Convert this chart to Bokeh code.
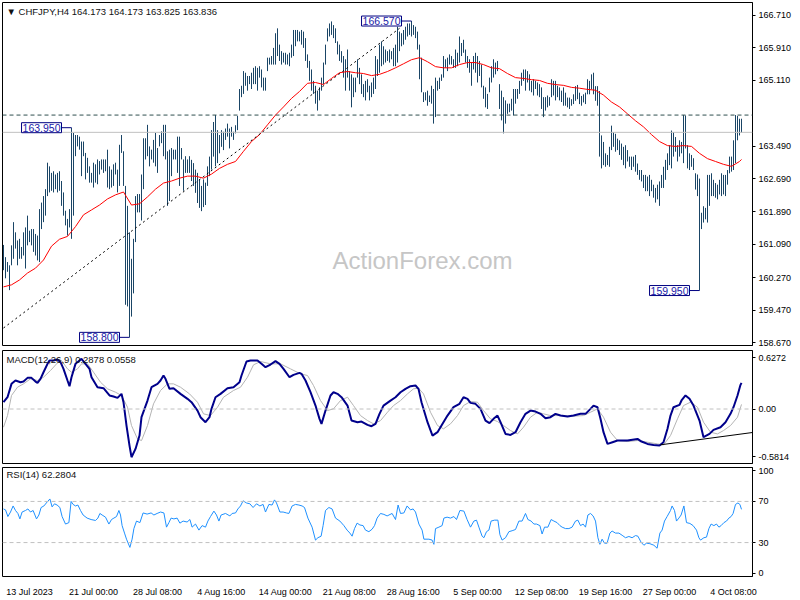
from bokeh.plotting import figure
from bokeh.layouts import column
from bokeh.models import (Range1d, LinearAxis, FixedTicker, PrintfTickFormatter,
                          Label, Span, ColumnDataSource)
from bokeh.embed import file_html
from bokeh.resources import INLINE

# ---------------- data ----------------
highs = [
    161.07, 160.77, 160.65, 160.57, 161.06, 161.63, 161.38, 161.18, 161.22, 161.02,
    161.38, 161.50, 161.79, 161.42, 161.46, 161.46, 161.34, 161.30, 161.95, 162.11,
    162.27, 162.44, 163.09, 163.00, 162.84, 162.88, 162.80, 162.84, 162.88, 162.64,
    162.36, 161.91, 161.71, 161.95, 163.95, 163.82, 163.77, 163.77, 163.73, 163.61,
    163.61, 163.33, 163.21, 163.00, 162.84, 163.09, 163.05, 163.17, 163.13, 163.17,
    163.17, 163.17, 163.41, 163.00, 162.92, 163.05, 163.09, 162.92, 163.53, 163.77,
    163.37, 162.52, 162.03, 161.38, 160.73, 161.22, 162.27, 162.32, 162.32, 162.80,
    163.69, 163.69, 164.02, 163.49, 163.41, 163.65, 163.82, 163.45, 163.77, 163.86,
    164.02, 164.02, 163.37, 163.41, 163.45, 163.41, 163.41, 163.73, 163.73, 163.45,
    163.17, 163.25, 163.17, 163.25, 163.16, 163.08, 162.92, 162.84, 162.68, 162.52,
    162.68, 162.60, 163.00, 163.24, 163.89, 164.09, 164.26, 163.89, 163.77, 163.89,
    163.85, 163.93, 164.05, 163.93, 163.97, 163.85, 164.01, 164.24, 164.90, 164.98,
    165.34, 165.30, 165.22, 165.22, 165.30, 165.42, 165.46, 165.42, 165.46, 165.38,
    165.18, 165.18, 165.67, 165.67, 165.71, 165.91, 166.27, 166.39, 165.99, 165.83,
    165.79, 165.79, 165.75, 165.79, 165.99, 166.35, 166.35, 166.35, 166.31, 166.35,
    166.31, 166.15, 165.75, 165.59, 165.38, 165.10, 164.98, 164.86, 164.94, 165.18,
    165.55, 165.99, 166.39, 166.51, 166.56, 166.47, 166.39, 166.07, 165.99, 165.83,
    165.71, 165.63, 165.87, 165.34, 165.26, 165.18, 165.18, 165.63, 165.42, 165.26,
    165.02, 165.10, 165.14, 164.98, 165.06, 165.18, 165.71, 165.63, 165.99, 166.07,
    165.95, 165.87, 165.83, 165.87, 165.83, 165.91, 165.99, 166.43, 166.31, 166.27,
    166.35, 166.43, 166.51, 166.51, 166.57, 166.47, 166.43, 166.31, 165.99, 165.67,
    164.82, 164.82, 164.86, 164.74, 164.98, 164.90, 165.18, 165.10, 165.18, 165.26,
    165.71, 165.63, 165.67, 165.75, 165.71, 165.63, 165.87, 165.79, 166.19, 166.03,
    166.11, 165.87, 165.71, 165.63, 165.55, 165.71, 165.79, 165.71, 165.59, 165.50,
    164.98, 164.94, 164.78, 165.18, 165.46, 165.63, 165.55, 165.59, 165.02, 164.86,
    164.70, 164.62, 164.54, 164.54, 164.66, 164.90, 164.90, 164.90, 165.10, 165.30,
    165.38, 165.38, 165.34, 165.26, 165.10, 165.14, 165.10, 165.06, 165.02, 164.94,
    164.70, 164.70, 164.74, 164.70, 165.14, 165.10, 165.10, 164.98, 164.94, 164.86,
    164.94, 164.81, 164.69, 164.69, 164.65, 164.77, 164.97, 165.00, 164.81, 164.73,
    164.77, 164.81, 165.14, 165.10, 165.26, 165.30, 164.97, 164.97, 164.85, 163.76,
    163.60, 163.32, 163.28, 163.48, 164.00, 163.84, 163.80, 163.68, 163.64, 163.56,
    163.48, 163.52, 163.40, 163.24, 163.24, 163.24, 163.28, 163.07, 162.91, 162.91,
    162.79, 162.79, 162.75, 162.79, 162.67, 162.55, 162.47, 162.55, 162.63, 162.79,
    162.99, 163.16, 163.32, 163.52, 163.88, 163.84, 163.72, 163.52, 163.64, 163.60,
    164.26, 164.25, 163.52, 163.32, 163.28, 163.20, 162.83, 162.80, 162.70, 161.86,
    162.02, 161.98, 162.79, 162.79, 162.83, 162.67, 162.59, 162.55, 162.67, 162.83,
    162.79, 162.79, 162.91, 163.24, 163.24, 163.64, 164.26, 164.24, 164.17, 164.17,
]
lows = [
    160.45, 160.25, 160.41, 159.96, 160.57, 160.73, 160.98, 160.57, 160.73, 160.73,
    160.81, 160.49, 161.06, 161.14, 161.06, 160.90, 160.81, 160.69, 160.65, 161.46,
    161.63, 161.79, 162.27, 162.36, 162.40, 162.36, 162.44, 162.36, 162.40, 162.03,
    161.79, 161.55, 161.30, 161.50, 161.22, 161.79, 163.25, 163.49, 163.41, 162.76,
    163.25, 162.68, 162.84, 162.60, 162.60, 162.48, 162.60, 162.56, 162.80, 162.92,
    162.84, 162.88, 162.48, 162.44, 162.48, 162.52, 162.80, 162.36, 162.52, 163.33,
    162.52, 159.60, 159.56, 158.80, 159.31, 159.88, 161.14, 161.87, 161.87, 161.67,
    162.44, 163.17, 163.25, 163.00, 163.17, 163.09, 163.00, 162.84, 163.49, 163.57,
    163.25, 163.17, 162.03, 162.15, 162.76, 163.17, 163.17, 162.84, 162.52, 163.17,
    162.40, 162.84, 162.84, 162.84, 162.64, 162.52, 162.35, 162.10, 161.98, 161.90,
    162.00, 162.05, 162.52, 162.76, 162.92, 163.24, 163.00, 163.08, 163.32, 163.48,
    163.40, 163.65, 163.73, 163.44, 163.73, 163.65, 163.81, 163.89, 164.37, 164.70,
    164.78, 164.98, 164.86, 165.02, 164.90, 165.02, 165.02, 164.86, 165.18, 164.94,
    164.86, 164.86, 165.34, 165.50, 165.50, 165.50, 165.50, 165.71, 165.59, 165.50,
    165.55, 165.50, 165.50, 165.46, 165.67, 165.71, 165.95, 166.07, 166.07, 165.99,
    165.91, 165.59, 165.42, 165.10, 164.86, 164.78, 164.54, 164.37, 164.62, 164.86,
    165.02, 165.50, 166.07, 166.19, 166.23, 166.15, 166.03, 165.75, 165.59, 165.55,
    165.18, 164.86, 165.18, 164.86, 164.45, 164.70, 164.82, 165.18, 165.02, 164.78,
    164.70, 164.62, 164.82, 164.62, 164.70, 164.78, 164.90, 165.22, 165.30, 165.46,
    165.50, 165.55, 165.59, 165.55, 165.63, 165.46, 165.46, 165.55, 165.83, 165.95,
    165.99, 166.11, 166.19, 166.23, 166.19, 166.23, 166.15, 165.87, 165.14, 164.82,
    164.58, 164.62, 164.49, 164.58, 164.54, 164.05, 164.21, 164.86, 164.90, 165.10,
    165.18, 165.42, 165.34, 165.50, 165.50, 165.42, 165.42, 165.46, 165.55, 165.71,
    165.79, 165.55, 165.42, 165.30, 164.98, 165.38, 165.30, 165.06, 165.22, 164.94,
    164.66, 164.45, 164.41, 164.82, 165.06, 165.18, 165.26, 165.34, 164.41, 164.13,
    163.81, 164.05, 164.29, 164.33, 164.37, 164.25, 164.54, 164.66, 164.78, 164.98,
    165.10, 164.86, 165.06, 164.86, 164.82, 164.74, 164.90, 164.74, 164.70, 164.41,
    164.21, 164.37, 164.45, 164.49, 164.70, 164.74, 164.62, 164.70, 164.62, 164.58,
    164.49, 164.49, 164.45, 164.41, 164.49, 164.53, 164.61, 164.65, 164.53, 164.49,
    164.57, 164.53, 164.77, 164.77, 164.89, 164.77, 164.61, 164.49, 163.24, 162.95,
    163.03, 162.99, 163.03, 162.99, 163.40, 163.48, 163.36, 163.40, 163.28, 163.16,
    163.03, 162.95, 163.12, 162.99, 162.91, 162.99, 162.87, 162.79, 162.67, 162.63,
    162.47, 162.39, 162.39, 162.27, 162.39, 162.23, 162.11, 162.19, 162.03, 162.47,
    162.47, 162.67, 162.91, 163.03, 162.95, 163.24, 163.36, 163.12, 163.24, 163.32,
    163.08, 163.44, 162.95, 162.91, 162.99, 162.91, 162.43, 162.27, 159.95, 161.46,
    161.62, 161.70, 161.62, 162.03, 162.27, 162.27, 162.23, 162.19, 162.31, 162.27,
    162.31, 162.27, 162.55, 162.83, 162.87, 162.91, 163.08, 163.64, 163.76, 163.83,
]

# moving average, sampled every 4th bar plus the last bar
ma_idx = list(range(0, 369, 4)) + [369]
ma_vals = [
    160.04, 160.09, 160.21, 160.38, 160.50, 160.70, 161.04, 161.21, 161.28, 161.52,
    161.81, 161.93, 162.05, 162.20, 162.30, 162.37, 162.05, 162.08, 162.25, 162.44,
    162.59, 162.64, 162.71, 162.76, 162.76, 162.71, 162.81, 162.95, 163.05, 163.12,
    163.37, 163.61, 163.78, 164.02, 164.26, 164.46, 164.67, 164.84, 165.04, 165.06,
    165.01, 165.16, 165.30, 165.33, 165.30, 165.28, 165.23, 165.26, 165.33, 165.42,
    165.52, 165.62, 165.67, 165.57, 165.45, 165.42, 165.42, 165.50, 165.55, 165.55,
    165.50, 165.42, 165.40, 165.28, 165.18, 165.16, 165.13, 165.11, 165.04, 165.01,
    164.99, 164.94, 164.92, 164.89, 164.87, 164.75, 164.58, 164.46, 164.29, 164.12,
    163.97, 163.78, 163.61, 163.51, 163.49, 163.51, 163.49, 163.32, 163.19, 163.12,
    163.05, 163.00, 163.12, 163.17,
]

macd_pts = [
    (0, 0.083), (2, 0.144), (4, 0.307), (6, 0.348), (8.5, 0.327), (10, 0.335), (12, 0.380),
    (14, 0.380), (16, 0.335), (17, 0.319), (18.5, 0.368), (20, 0.449), (22, 0.551), (23, 0.592),
    (25, 0.592), (27, 0.604), (28.5, 0.572), (30, 0.490), (32, 0.348), (33, 0.278), (34, 0.388),
    (36, 0.551), (38, 0.592), (39, 0.612), (41, 0.551), (43, 0.490), (44, 0.388), (47, 0.266),
    (50, 0.254), (53, 0.165), (55, 0.152), (57, 0.136), (59, 0.185), (60, 0.083), (61.5, -0.202),
    (63, -0.446), (64, -0.588), (66, -0.487), (68, -0.324), (69, -0.100), (72, 0.103), (74, 0.266),
    (77, 0.307), (78.5, 0.348), (80, 0.409), (81, 0.368), (83, 0.246), (85, 0.254), (88.5, 0.185),
    (92, 0.124), (94, 0.083), (97, -0.019), (98.5, -0.100), (101, -0.161), (103, -0.100),
    (104, 0.002), (106, 0.144), (108.5, 0.185), (112, 0.254), (115, 0.266), (118, 0.327),
    (119, 0.409), (121.5, 0.580), (123.5, 0.592), (127, 0.592), (129, 0.551), (131, 0.510),
    (133.5, 0.543), (136, 0.584), (138, 0.551), (140, 0.490), (143, 0.388), (145, 0.417),
    (148, 0.441), (149, 0.429), (151, 0.348), (153.5, 0.205), (156, 0.042), (158, -0.120),
    (159, -0.181), (161, -0.019), (163.5, 0.165), (165, 0.205), (167, 0.185), (169, 0.144),
    (172, 0.042), (174, -0.141), (177, -0.161), (179, -0.153), (182, -0.194), (184, -0.210),
    (186, -0.181), (188, -0.059), (190, 0.042), (193.5, 0.103), (196, 0.144), (198.5, 0.205),
    (201, 0.246), (203.5, 0.278), (206, 0.287), (207.5, 0.246), (209, 0.083), (212, -0.161),
    (214.5, -0.324), (217, -0.283), (219, -0.202), (222, -0.080), (225, 0.022), (228, 0.063),
    (230, 0.144), (232, 0.124), (233.5, 0.075), (236, 0.063), (238.5, 0.002), (241, -0.141),
    (243, -0.173), (245, -0.120), (247, -0.080), (248.5, -0.161), (251, -0.304), (253.5, -0.316),
    (256, -0.283), (258.5, -0.161), (261, -0.059), (263.5, -0.019), (266, -0.031), (268.5, -0.059),
    (271, -0.112), (273.5, -0.100), (276, -0.059), (278.5, -0.080), (282, -0.092), (285, -0.080),
    (288.5, -0.059), (291, -0.059), (293.5, 0.002), (295, 0.042), (297, 0.022), (298.5, -0.120),
    (300, -0.283), (302, -0.426), (304.5, -0.405), (307, -0.385), (312, -0.385), (317, -0.365),
    (319, -0.397), (322, -0.426), (325, -0.438), (328, -0.446), (330, -0.405), (332, -0.242),
    (333.5, -0.080), (335, 0.022), (338, 0.051), (339, 0.104), (341, 0.165), (343, 0.124),
    (345, 0.042), (348, -0.141), (350, -0.344), (353, -0.304), (355, -0.255), (358.5, -0.222),
    (361, -0.161), (363.5, -0.059), (365, 0.022), (367, 0.165), (368.5, 0.295), (369, 0.319),
]
signal_pts = [
    (0, -0.222), (2, -0.080), (4, 0.165), (7, 0.266), (10, 0.307), (13.5, 0.368), (17, 0.348),
    (20, 0.388), (23.5, 0.470), (27, 0.563), (29, 0.592), (32, 0.490), (34, 0.449), (37, 0.490),
    (39, 0.551), (42, 0.551), (45, 0.449), (48.5, 0.327), (52, 0.246), (56, 0.205), (59, 0.165),
    (62, 0.022), (64, -0.202), (67, -0.365), (69, -0.385), (72, -0.202), (75, 0.063), (78.5, 0.226),
    (82, 0.307), (85, 0.307), (88.5, 0.266), (93, 0.185), (97, 0.083), (100, -0.059), (103.5, -0.080),
    (107, 0.022), (110, 0.144), (115, 0.226), (118.5, 0.266), (122, 0.388), (125, 0.539),
    (128.5, 0.580), (133.5, 0.551), (138.5, 0.551), (143.5, 0.490), (148.5, 0.429), (152, 0.409),
    (155, 0.287), (158.5, 0.103), (162, -0.019), (165, 0.002), (168.5, 0.103), (172, 0.144),
    (175, 0.042), (178.5, -0.080), (182, -0.141), (185, -0.181), (188.5, -0.141), (192, -0.039),
    (195, 0.042), (198.5, 0.103), (202, 0.185), (205, 0.246), (207.5, 0.254), (210, 0.185),
    (213.5, -0.039), (217, -0.202), (220, -0.242), (223.5, -0.181), (227, -0.080), (230, 0.042),
    (233.5, 0.091), (237, 0.083), (240, -0.019), (243.5, -0.120), (247, -0.153), (250, -0.202),
    (253.5, -0.263), (257, -0.304), (260, -0.222), (263.5, -0.100), (267, -0.039), (270, -0.059),
    (273.5, -0.080), (278.5, -0.080), (285, -0.088), (290, -0.080), (293.5, -0.039), (297, 0.002),
    (300, -0.100), (303.5, -0.283), (307, -0.385), (312, -0.397), (317, -0.385), (322, -0.405),
    (327, -0.426), (330, -0.438), (333.5, -0.324), (337, -0.120), (340, 0.042), (343.5, 0.083),
    (347, 0.022), (350, -0.161), (353.5, -0.283), (357, -0.304), (360, -0.263), (363.5, -0.202),
    (367, -0.100), (369, 0.056),
]
rsi_pts = [
    (0, 62.7), (1, 61.8), (2.2, 55.3), (3.5, 59.7), (4.8, 65.6), (6, 61.2), (7.2, 58.3), (8.2, 53.0),
    (9.3, 59.7), (11, 61.2), (12.2, 62.7), (13.5, 59.7), (14.8, 61.2), (16.5, 53.0), (17.7, 56.8),
    (18.8, 64.1), (20.2, 65.6), (21.8, 69.4), (23.2, 72.4), (24.3, 64.7), (25.5, 67.7), (26.8, 66.5),
    (28.2, 64.1), (29.3, 55.3), (31, 48.0), (32.7, 49.4), (33.8, 70.0), (34.8, 67.1), (36, 65.6),
    (37.2, 66.5), (38.5, 61.2), (39.8, 56.8), (41.8, 53.8), (43.8, 52.4), (46, 51.5), (47.2, 53.8),
    (48.2, 58.3), (49.3, 56.8), (51, 54.7), (52.7, 48.0), (54, 52.4), (55.2, 53.8), (56.5, 55.3),
    (57.7, 61.2), (58.5, 56.8), (59.3, 46.5), (60.5, 39.2), (61.5, 33.3), (63.2, 25.3), (64.3, 33.3),
    (65.2, 43.6), (66.5, 50.9), (68.2, 49.4), (69.8, 58.8), (71.8, 57.7), (73.8, 58.8), (75.2, 56.8),
    (76.8, 58.3), (78.5, 59.7), (80.2, 58.8), (81.5, 45.0), (82.7, 49.4), (83.8, 53.8), (85.2, 53.0),
    (86.8, 53.8), (88.2, 48.9), (89.8, 50.9), (91.8, 50.0), (93.2, 52.4), (94.3, 45.0), (96, 48.0),
    (97.7, 42.1), (99.3, 46.5), (101, 45.0), (102.2, 50.9), (103.5, 55.3), (105.2, 60.6), (106.5, 56.8),
    (107.7, 50.9), (108.8, 56.8), (111, 58.3), (113.2, 55.9), (114.3, 58.3), (116, 58.8), (117.2, 62.7),
    (118.5, 65.6), (119.8, 70.6), (121.5, 68.5), (123.2, 67.7), (124.8, 64.1), (126.5, 67.7),
    (128.2, 65.6), (129.8, 67.1), (131, 59.7), (132.7, 67.1), (134.3, 66.5), (135.5, 71.5),
    (136.5, 68.5), (138.2, 59.7), (139.8, 59.7), (141.5, 58.8), (142.7, 58.3), (144.3, 65.6),
    (146, 67.1), (147.7, 66.5), (149.3, 65.6), (150.5, 64.1), (152.2, 53.8), (154.3, 45.0),
    (156, 32.4), (157.2, 34.7), (158.8, 36.2), (159.8, 46.5), (161, 61.2), (162.7, 64.1),
    (164.3, 62.7), (166, 53.8), (168.2, 50.9), (170.2, 46.5), (171.8, 42.1), (173.2, 39.2),
    (174.3, 36.2), (175.5, 43.6), (176.8, 48.9), (178.2, 47.1), (179.8, 46.5), (181, 42.1),
    (182.7, 40.6), (184.3, 43.0), (185.5, 46.5), (186.8, 53.8), (188.5, 58.3), (190.2, 57.4),
    (191.8, 55.9), (194.3, 58.3), (196, 52.4), (197.3, 66.5), (198.5, 58.3), (200.2, 58.8),
    (201.8, 65.6), (203.5, 61.8), (204.8, 62.7), (206, 59.7), (207.7, 48.0), (209.3, 42.1),
    (210.2, 33.3), (212.7, 33.3), (214.3, 32.4), (215.2, 28.3), (216, 43.6), (217.7, 45.0),
    (219.3, 46.5), (220.2, 53.8), (221.8, 54.7), (223.5, 53.8), (225.2, 55.3), (226.5, 52.4),
    (228.2, 61.2), (230.2, 60.6), (231.8, 52.4), (233.5, 45.0), (235.2, 50.9), (236.5, 51.8),
    (237.7, 45.0), (239.3, 36.2), (240.2, 34.7), (241.5, 40.6), (242.7, 42.1), (243.8, 50.9),
    (245.5, 51.8), (247.2, 51.8), (248.2, 37.7), (249.3, 32.4), (251, 34.7), (252.7, 40.6),
    (254.3, 41.5), (256, 42.7), (257.7, 50.9), (259.3, 50.9), (261, 58.3), (262.2, 52.4),
    (263.8, 50.9), (265.2, 48.0), (266.5, 48.0), (268.2, 46.5), (269.3, 38.3), (270.5, 45.0),
    (272.2, 45.0), (273.8, 52.4), (275.2, 50.9), (276.8, 49.4), (278.2, 46.5), (279.3, 45.0),
    (281, 43.6), (282.7, 43.6), (284.3, 45.0), (286, 50.9), (287.2, 51.8), (288.5, 46.5),
    (289.8, 48.0), (291, 45.0), (292.2, 56.8), (293.5, 58.3), (294.8, 55.9), (296, 50.9),
    (297.2, 34.7), (298.2, 28.3), (299.3, 33.3), (300.5, 29.4), (301.8, 29.4), (303.2, 39.2),
    (304.3, 41.2), (306, 39.2), (307.7, 39.2), (309.3, 37.1), (311, 34.7), (312.7, 35.9),
    (314.3, 34.7), (316, 36.8), (317.2, 36.2), (318.8, 30.3), (320.2, 27.4), (321.5, 29.4),
    (323.2, 28.9), (325.2, 27.4), (326.8, 24.5), (328.2, 39.2), (329.3, 42.1), (330.5, 50.9),
    (331.8, 55.3), (333.5, 61.2), (334.3, 65.6), (335.5, 61.2), (336.5, 50.9), (337.7, 53.8),
    (338.8, 56.8), (340.2, 65.6), (341.5, 49.4), (343.2, 48.6), (344.8, 46.5), (346.5, 42.1),
    (347.7, 34.7), (348.5, 32.4), (350.2, 34.7), (351.5, 35.3), (352.7, 43.6), (353.8, 48.0),
    (355.2, 46.5), (356.5, 48.0), (357.7, 45.0), (358.8, 46.5), (360.2, 49.4), (361.5, 50.9),
    (362.7, 53.8), (363.8, 55.3), (364.8, 58.3), (366, 67.1), (367.2, 68.5), (368.2, 67.1),
    (369, 62.3),
]

price_ticks = [166.71, 165.91, 165.11, 163.49, 162.69, 161.89, 161.09, 160.27, 159.47, 158.67]
macd_ticks = [0.6272, 0.0, -0.5814]
macd_tick_labels = ["0.6272", "0.00", "-0.5814"]
rsi_ticks = [100, 70, 30, 0]
rsi_levels = [70, 30]
date_ticks = [0, 32, 64, 96, 128, 160, 192, 224, 256, 288, 320, 352]
date_labels = ["13 Jul 2023", "21 Jul 00:00", "28 Jul 08:00", "4 Aug 16:00", "14 Aug 00:00",
               "21 Aug 08:00", "28 Aug 16:00", "5 Sep 00:00", "12 Sep 08:00", "19 Sep 16:00",
               "27 Sep 00:00", "4 Oct 08:00"]

resistance_level = 164.26
last_price = 163.836
trend_idx = [0, 198]
trend_price = [159.03, 166.39]
macd_trend_idx = [328.5, 375]
macd_trend_val = [-0.437, -0.285]
mark_idx = [34, 63, 204, 348]
mark_price = [163.95, 158.80, 166.57, 159.95]

title_text = "\u25bc CHFJPY,H4  164.173 164.173 163.825 163.836"
macd_text = "MACD(12,26,9) 0.2878 0.0558"
rsi_text = "RSI(14) 62.2804"

# ---------------- styling / layout ----------------
FONT = "Liberation Sans"
FS = "9px"
FS_PANEL = "9.5px"
W = 800
LB = 2
RB = 48
FW = W - LB - RB          # 750 px frame -> 2 px per bar
BAR = "#1a4566"

xr = Range1d(-0.5, 374.5)


def make_fig(h, yr, top, bottom):
    p = figure(width=W, height=h, x_range=xr, y_range=yr, x_axis_type=None, y_axis_type=None,
               title=None, output_backend="svg", toolbar_location=None,
               min_border_left=LB, min_border_right=RB, min_border_top=top, min_border_bottom=bottom)
    p.outline_line_color = "black"
    p.outline_line_width = 1
    p.background_fill_color = "white"
    p.border_fill_color = "white"
    return p


def right_axis(p, ticks, fmt=None, overrides=None):
    ax = LinearAxis(ticker=FixedTicker(ticks=ticks))
    if fmt:
        ax.formatter = PrintfTickFormatter(format=fmt)
    if overrides:
        ax.major_label_overrides = overrides
    ax.axis_line_color = "black"
    ax.major_tick_line_color = "black"
    ax.major_tick_out = 3
    ax.major_tick_in = 0
    ax.minor_tick_line_color = None
    ax.major_label_text_font = FONT
    ax.major_label_text_font_size = FS
    ax.major_label_text_color = "black"
    ax.major_label_standoff = 3
    p.add_layout(ax, "right")


def corner_text(p, text, frame_h):
    p.add_layout(Label(x=4, y=frame_h - 9, x_units="screen", y_units="screen", text=text,
                       text_font=FONT, text_font_size=FS_PANEL, text_color="#111111",
                       text_baseline="middle", text_align="left"))


# ---- main price panel ----
H1, T1, B1 = 350, 2, 5
p1 = make_fig(H1, Range1d(158.60, 167.025), T1, B1)
right_axis(p1, price_ticks, fmt="%.3f")

p1.add_layout(Label(x=209.5, y=160.70, text="ActionForex.com", text_font="Liberation Sans",
                    text_font_size="24px", text_color="#c6c6c6", text_align="center",
                    text_baseline="middle", level="underlay"))

p1.add_layout(Span(location=resistance_level, dimension="width", line_color="#2f4f4f",
                   line_dash="4 3", line_width=1))
p1.add_layout(Span(location=last_price, dimension="width", line_color="#c0c0c0", line_width=1))

src = ColumnDataSource(dict(i=list(range(len(highs))), high=highs, low=lows))
p1.segment(x0="i", y0="low", x1="i", y1="high", source=src, line_color=BAR, line_width=1)
p1.line(ma_idx, ma_vals, line_color="#ff0000", line_width=1)
p1.line(trend_idx, trend_price, line_color="black", line_width=1, line_dash="2 3")

for idx, price in zip(mark_idx, mark_price):
    p1.segment(x0=[idx - 5], y0=[price], x1=[idx], y1=[price], line_color="#000080", line_width=1)
    p1.add_layout(Label(x=idx - 5, y=price, text=f"{price:.3f}", text_font=FONT, text_font_size="10.5px",
                        text_color="#1a1aa8", text_align="right", text_baseline="middle",
                        background_fill_color="white", border_line_color="#000080",
                        border_line_width=1, padding=1))

p1.add_layout(Label(x=FW + 2, x_units="screen", y=resistance_level, text=f"{resistance_level:.3f}",
                    text_font=FONT, text_font_size=FS, text_color="white", text_align="left",
                    text_baseline="middle", background_fill_color="#2f4f4f", padding=2))
p1.add_layout(Label(x=FW + 2, x_units="screen", y=last_price, text=f"{last_price:.3f}",
                    text_font=FONT, text_font_size=FS, text_color="white", text_align="left",
                    text_baseline="middle", background_fill_color="black", padding=2))
corner_text(p1, title_text, H1 - T1 - B1)

# ---- MACD panel ----
H2, T2, B2 = 115, 0, 2
p2 = make_fig(H2, Range1d(-0.665, 0.714), T2, B2)
right_axis(p2, macd_ticks, overrides={t: s for t, s in zip(macd_ticks, macd_tick_labels)})
p2.add_layout(Span(location=0, dimension="width", line_color="#c0c0c0", line_dash="4 3", line_width=1))
p2.line([q[0] for q in signal_pts], [q[1] for q in signal_pts], line_color="#b4b4b4", line_width=1)
p2.line([q[0] for q in macd_pts], [q[1] for q in macd_pts], line_color="#00008b", line_width=2)
p2.line(macd_trend_idx, macd_trend_val, line_color="black", line_width=1)
corner_text(p2, macd_text, H2 - T2 - B2)

# ---- RSI panel ----
H3, T3, B3 = 134, 2, 21
p3 = make_fig(H3, Range1d(-3, 103), T3, B3)
right_axis(p3, rsi_ticks)
for lv in rsi_levels:
    p3.add_layout(Span(location=lv, dimension="width", line_color="#c0c0c0", line_dash="4 3", line_width=1))
p3.line([q[0] for q in rsi_pts], [q[1] for q in rsi_pts], line_color="#1e90ff", line_width=1)
corner_text(p3, rsi_text, H3 - T3 - B3)

shift = 13
xa = LinearAxis(ticker=FixedTicker(ticks=[t + shift for t in date_ticks]),
                major_label_overrides={t + shift: s for t, s in zip(date_ticks, date_labels)})
xa.axis_line_color = None
xa.major_tick_line_color = None
xa.minor_tick_line_color = None
xa.major_label_text_font = FONT
xa.major_label_text_font_size = FS
xa.major_label_text_color = "black"
xa.major_label_standoff = 4
p3.add_layout(xa, "below")

layout = column(p1, p2, p3, spacing=0)
open("out.html", "w").write(file_html(layout, INLINE))
